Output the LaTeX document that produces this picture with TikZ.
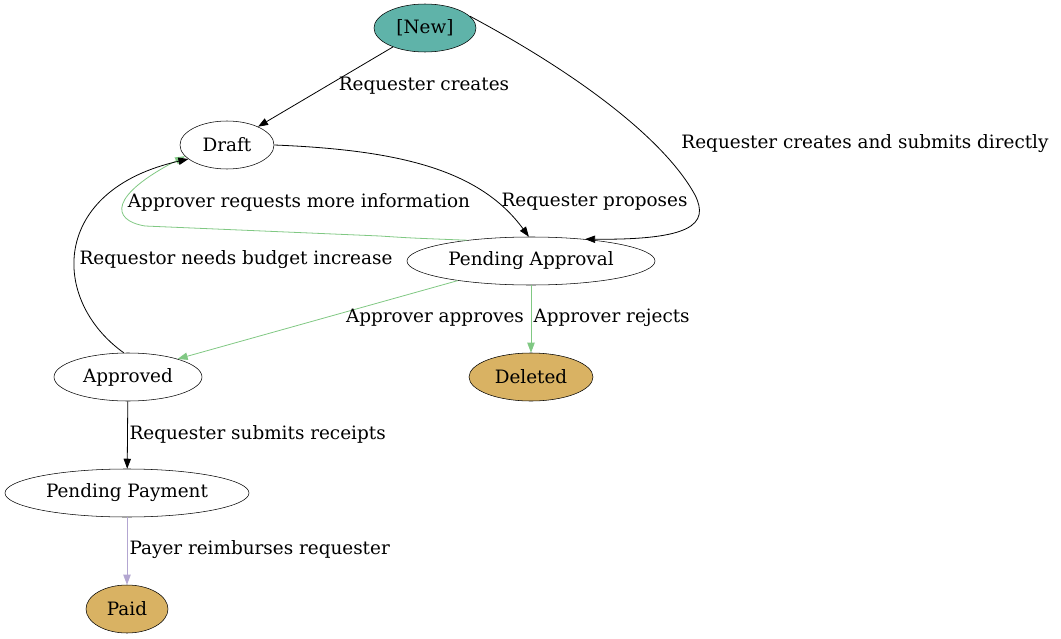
\documentclass[tikz,border=0pt]{standalone}
\usepackage{fontspec}
\setmainfont{DejaVu Serif}
\usetikzlibrary{arrows.meta,shapes.geometric}
\definecolor{teal1}{HTML}{5FB3A9}
\definecolor{gold1}{HTML}{D9B263}
\definecolor{grn}{HTML}{80C883}
\definecolor{lav}{HTML}{B3A6D1}
\begin{document}
\begin{tikzpicture}[x=0.75pt,y=-0.75pt,
  st/.style={draw,ellipse,inner sep=0,minimum height=48*0.75pt,font=\fontsize{13.8}{15}\selectfont},
  e/.style={-{Triangle[length=7.5pt,width=5.5pt]},line width=0.6pt},
  lb/.style={font=\fontsize{13.8}{15}\selectfont,inner sep=1pt}]
\useasboundingbox (0,0) rectangle (1061,639);
\node[st,fill=teal1,minimum width=102*0.75pt] (new) at (425,28) {[New]};
\node[st,minimum width=94*0.75pt] (draft) at (227,145) {Draft};
\node[st,minimum width=248*0.75pt] (pa) at (531,261) {Pending Approval};
\node[st,minimum width=148*0.75pt] (ap) at (128,377) {Approved};
\node[st,fill=gold1,minimum width=124*0.75pt] (del) at (531,377) {Deleted};
\node[st,minimum width=244*0.75pt] (pp) at (127,493) {Pending Payment};
\node[st,fill=gold1,minimum width=82*0.75pt] (paid) at (127,609) {Paid};

\draw[e] (new) -- (draft);
\node[lb] at (424,86) {Requester creates};
\draw[e] (new.15) .. controls (580,75) and (665,140) .. (695,195) .. controls (710,225) and (690,240) .. (pa.22);
\node[lb] at (865,144) {Requester creates and submits directly};
\draw[e] (draft.east) .. controls (400,150) and (480,170) .. (pa.95);
\node[lb,anchor=west] at (500,202) {Requester proposes};
\draw[e,grn] (pa.162) .. controls (410,238) .. (380,236) -- (145,226) .. controls (110,220) and (110,195) .. (draft.195);
\node[lb] at (299,202) {Approver requests more information};
\draw[e] (ap.100) .. controls (50,300) and (50,190) .. (draft.200);
\node[lb] at (236,260) {Requestor needs budget increase};
\draw[e,grn] (pa.195) -- (ap.20);
\node[lb] at (435,318) {Approver approves};
\draw[e,grn] (pa) -- (del);
\node[lb,anchor=west] at (532,318) {Approver rejects};
\draw[e] (ap) -- (pp);
\node[lb,anchor=west] at (128,434) {Requester submits receipts};
\draw[e,lav] (pp) -- (paid);
\node[lb,anchor=west] at (128,550) {Payer reimburses requester};
\end{tikzpicture}
\end{document}
